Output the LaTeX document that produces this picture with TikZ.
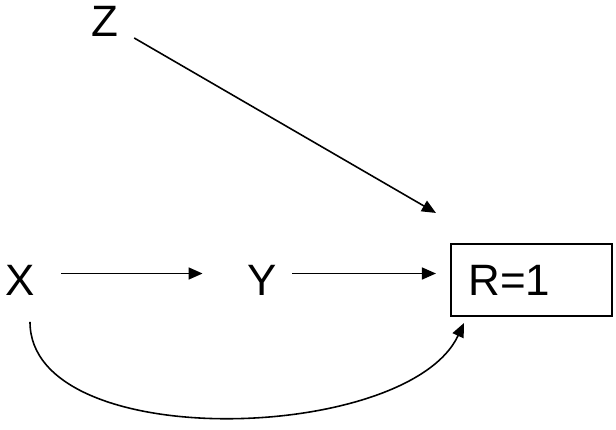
\documentclass[tikz,border=0pt]{standalone}
\usepackage{fontspec}
\setmainfont{Liberation Sans}
\usetikzlibrary{arrows.meta}

\begin{document}
\begin{tikzpicture}[->,>={Triangle[length=0.28cm,width=0.24cm]},line width=0.9pt,
  var node/.style={font=\fontsize{25}{30}\selectfont,inner sep=0.3cm},
  box node/.style={draw,line width=1.2pt,font=\fontsize{25}{30}\selectfont,
    text width=2.52cm,align=left,inner xsep=0.35cm,minimum height=1.44cm}]

  \useasboundingbox (0,0) rectangle (12.32,-8.6);

  \node[var node] (Z) at (2.1,-0.42) {Z};
  \node[var node] (X) at (0.4,-5.6) {X};
  \node[var node] (Y) at (5.24,-5.6) {Y};
  \node[box node] (R) at (10.63,-5.6) {R=1};

  \path
    ([yshift=0.13cm]X.east) edge[shorten <=0.22cm,shorten >=0.58cm] ([yshift=0.13cm]Y.west)
    ([yshift=0.13cm]Y.east) edge[shorten >=0.28cm] ([yshift=0.13cm]R.west)
    ([yshift=-0.34cm]Z.east) edge ([shift={(-0.28cm,0.6cm)}]R.north west)
    ([shift={(0.2cm,-0.22cm)}]X.south) edge[out=-90,in=-115,looseness=0.78]
      ([shift={(0.28cm,-0.12cm)}]R.south west);
\end{tikzpicture}
\end{document}
